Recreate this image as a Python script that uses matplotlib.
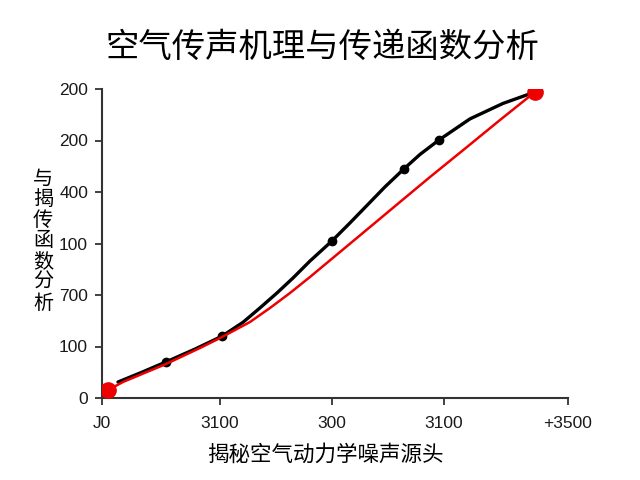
import numpy as np
import matplotlib
matplotlib.use('Agg')
import matplotlib.pyplot as plt

plt.rcParams['font.family'] = ['Noto Sans CJK SC', 'DejaVu Sans']

# tick positions / labels (labels as printed in the reference)
x_ticks = [0, 118, 230, 342, 466]
x_labels = ['J0', '3100', '300', '3100', '+3500']
y_ticks = [0, 1, 2, 3, 4, 5, 6]
y_labels = ['0', '100', '700', '100', '400', '200', '200']

# black curve
black_x = [16, 38, 64, 93, 120, 141, 158, 175, 191, 208, 230, 248, 265, 283,
           302, 318, 337, 368, 401, 433]
black_y = [0.31, 0.485, 0.70, 0.95, 1.20, 1.47, 1.75, 2.04, 2.33, 2.66,
           3.05, 3.40, 3.74, 4.10, 4.45, 4.73, 5.01, 5.42, 5.72, 5.942]
black_marks = [2, 4, 10, 14, 16]

# red curve
red_x = [6, 21, 64, 98, 120, 148, 168, 188, 208, 238, 268, 298, 328, 365, 398, 433]
red_y = [0.155, 0.311, 0.66, 0.971, 1.184, 1.476, 1.748, 2.039, 2.35, 2.835,
         3.32, 3.806, 4.291, 4.874, 5.398, 5.942]
red_marks = [0, len(red_x) - 1]

title = '空气传声机理与传递函数分析'
ylabel = '与揭传函数分析'
xlabel = '揭秘空气动力学噪声源头'

fig = plt.figure(figsize=(6.4, 4.8), dpi=100)
ax = fig.add_axes([102/640, 1 - 398/480, (568 - 102)/640, (398 - 89)/480])

ax.plot(black_x, black_y, color='black', lw=2.4, solid_capstyle='round',
        solid_joinstyle='round', marker='o', markevery=black_marks, ms=6, zorder=3)
ax.plot(red_x, red_y, color='#ee0000', lw=1.8, solid_joinstyle='round',
        marker='o', markevery=red_marks, ms=11, zorder=4)

ax.set_xlim(0, 466)
ax.set_ylim(0, 6)
ax.set_xticks(x_ticks)
ax.set_xticklabels(x_labels, family='Liberation Sans', fontsize=12.5)
ax.set_yticks(y_ticks)
ax.set_yticklabels(y_labels, family='Liberation Sans', fontsize=12.5)
for s in ['top', 'right']:
    ax.spines[s].set_visible(False)
for s in ['left', 'bottom']:
    ax.spines[s].set_color('#333333')
    ax.spines[s].set_linewidth(1.5)
ax.tick_params(direction='out', length=5, width=1.3, color='#333333',
               labelcolor='#1a1a1a', pad=5)
ax.tick_params(axis='x', pad=8)

fig.text(322/640, 1 - 47/480, title, ha='center', va='center', fontsize=24)
fig.text(43/640, 1 - 241/480, '\n'.join(ylabel), ha='center', va='center',
         fontsize=14.5, linespacing=0.98)
fig.text(325/640, 1 - 455/480, xlabel, ha='center', va='center', fontsize=15.5)

plt.savefig('out.png', dpi=100)
